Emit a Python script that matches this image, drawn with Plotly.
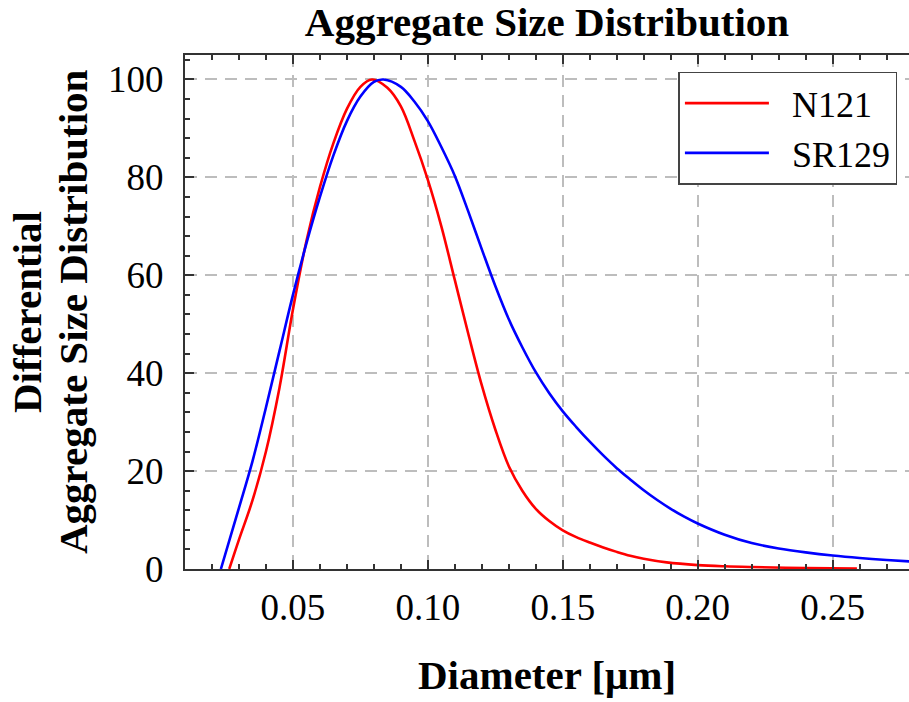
import plotly.graph_objects as go

# ---- data ----
n121_x = [0.0264, 0.030, 0.035, 0.040, 0.045, 0.050, 0.055, 0.060, 0.065, 0.070,
          0.075, 0.0793, 0.085, 0.090, 0.095, 0.100, 0.105, 0.110, 0.115, 0.120,
          0.125, 0.130, 0.135, 0.140, 0.145, 0.150, 0.155, 0.160, 0.165, 0.170,
          0.175, 0.180, 0.1885, 0.200, 0.210, 0.220, 0.240, 0.259]
n121_y = [0.0, 6.0, 14.0, 24.0, 37.0, 53.0, 67.0, 78.0, 87.0, 94.0,
          98.5, 100.0, 98.3, 94.5, 87.5, 79.5, 70.0, 59.0, 48.0, 37.5,
          28.5, 21.0, 16.0, 12.3, 9.8, 7.9, 6.5, 5.4, 4.4, 3.5,
          2.7, 2.1, 1.35, 0.8, 0.55, 0.4, 0.2, 0.1]

sr129_x = [0.0233, 0.030, 0.035, 0.040, 0.045, 0.050, 0.055, 0.060, 0.065, 0.070,
           0.075, 0.080, 0.0836, 0.090, 0.095, 0.100, 0.105, 0.110, 0.115, 0.120,
           0.125, 0.130, 0.135, 0.140, 0.145, 0.150, 0.155, 0.160, 0.165, 0.170,
           0.175, 0.180, 0.185, 0.190, 0.195, 0.200, 0.210, 0.220, 0.230, 0.240,
           0.250, 0.260, 0.270, 0.280]
sr129_y = [0.0, 12.5, 22.0, 33.0, 44.5, 56.0, 66.5, 76.0, 84.5, 91.5,
           96.5, 99.5, 100.0, 98.5, 95.5, 91.5, 86.2, 80.3, 73.0, 65.3,
           57.8, 51.0, 45.3, 40.2, 35.9, 32.2, 29.0, 26.0, 23.2, 20.6,
           18.3, 16.1, 14.1, 12.3, 10.7, 9.3, 7.0, 5.3, 4.2, 3.4,
           2.75, 2.25, 1.85, 1.5]

series_names = ["N121", "SR129"]
series_colors = ["#ff0000", "#0000ff"]

x_range = [0.01, 0.2783]
y_range = [0, 105]

FONT = "Liberation Serif"

fig = go.Figure()
for name, xs, ys, col in zip(series_names, [n121_x, sr129_x], [n121_y, sr129_y], series_colors):
    fig.add_trace(go.Scatter(x=xs, y=ys, mode="lines", name="\u2002" + name,
                             line=dict(color=col, width=2.6, shape="spline", smoothing=1.0)))

axis_common = dict(showline=True, linecolor="#333333", linewidth=2,
                   ticks="inside", tickcolor="#333333", tickwidth=2, ticklen=9,
                   showgrid=True, gridcolor="#bdbdbd", gridwidth=1.5, griddash="12px,8px",
                   zeroline=False,
                   tickfont=dict(family=FONT, size=37, color="black"))

fig.update_layout(
    width=909, height=702,
    margin=dict(l=185, r=0, t=55, b=133),
    paper_bgcolor="white", plot_bgcolor="white",
    title=dict(text="<b>Aggregate Size Distribution</b>",
               font=dict(family=FONT, size=41, color="black"),
               x=0.5, xref="paper", xanchor="center",
               y=1 - 22 / 702, yref="container", yanchor="middle"),
    xaxis=dict(range=x_range, dtick=0.05, tick0=0, tickformat=".2f",
               mirror="allticks", ticklabelstandoff=5,
               minor=dict(dtick=0.01, ticks="inside", ticklen=5, tickcolor="#333333",
                          tickwidth=2, showgrid=False),
               **axis_common),
    yaxis=dict(range=y_range, dtick=20, tick0=0, mirror=False, ticklabelstandoff=12,
               minor=dict(dtick=4, ticks="inside", ticklen=5, tickcolor="#333333",
                          tickwidth=2, showgrid=False),
               **axis_common),
    yaxis2=dict(range=y_range, overlaying="y", side="right", anchor="x",
                showline=False, showgrid=False, zeroline=False, showticklabels=False,
                dtick=20, tick0=0, ticks="inside", ticklen=5, tickcolor="#333333", tickwidth=2,
                minor=dict(dtick=4, ticks="inside", ticklen=3, tickcolor="#333333", tickwidth=2)),
    legend=dict(x=0.984, y=0.9675, xanchor="right", yanchor="top",
                bgcolor="white", bordercolor="#444444", borderwidth=1.5,
                font=dict(family=FONT, size=36, color="black"),
                itemwidth=84, tracegroupgap=0),
    showlegend=True,
    annotations=[
        dict(text="<b>Diameter [μm]</b>", xref="paper", yref="paper",
             x=0.5, y=-(675 - 569) / 514, xanchor="center", yanchor="middle",
             showarrow=False, font=dict(family=FONT, size=41, color="black")),
        dict(text="<b>Differential</b>", xref="paper", yref="paper",
             x=(27 - 185) / 724, y=0.5, xanchor="center", yanchor="middle", textangle=-90,
             showarrow=False, font=dict(family=FONT, size=41, color="black")),
        dict(text="<b>Aggregate Size Distribution</b>", xref="paper", yref="paper",
             x=(73 - 185) / 724, y=0.5, xanchor="center", yanchor="middle", textangle=-90,
             showarrow=False, font=dict(family=FONT, size=41, color="black")),
    ],
)

fig.write_html("out.html")
